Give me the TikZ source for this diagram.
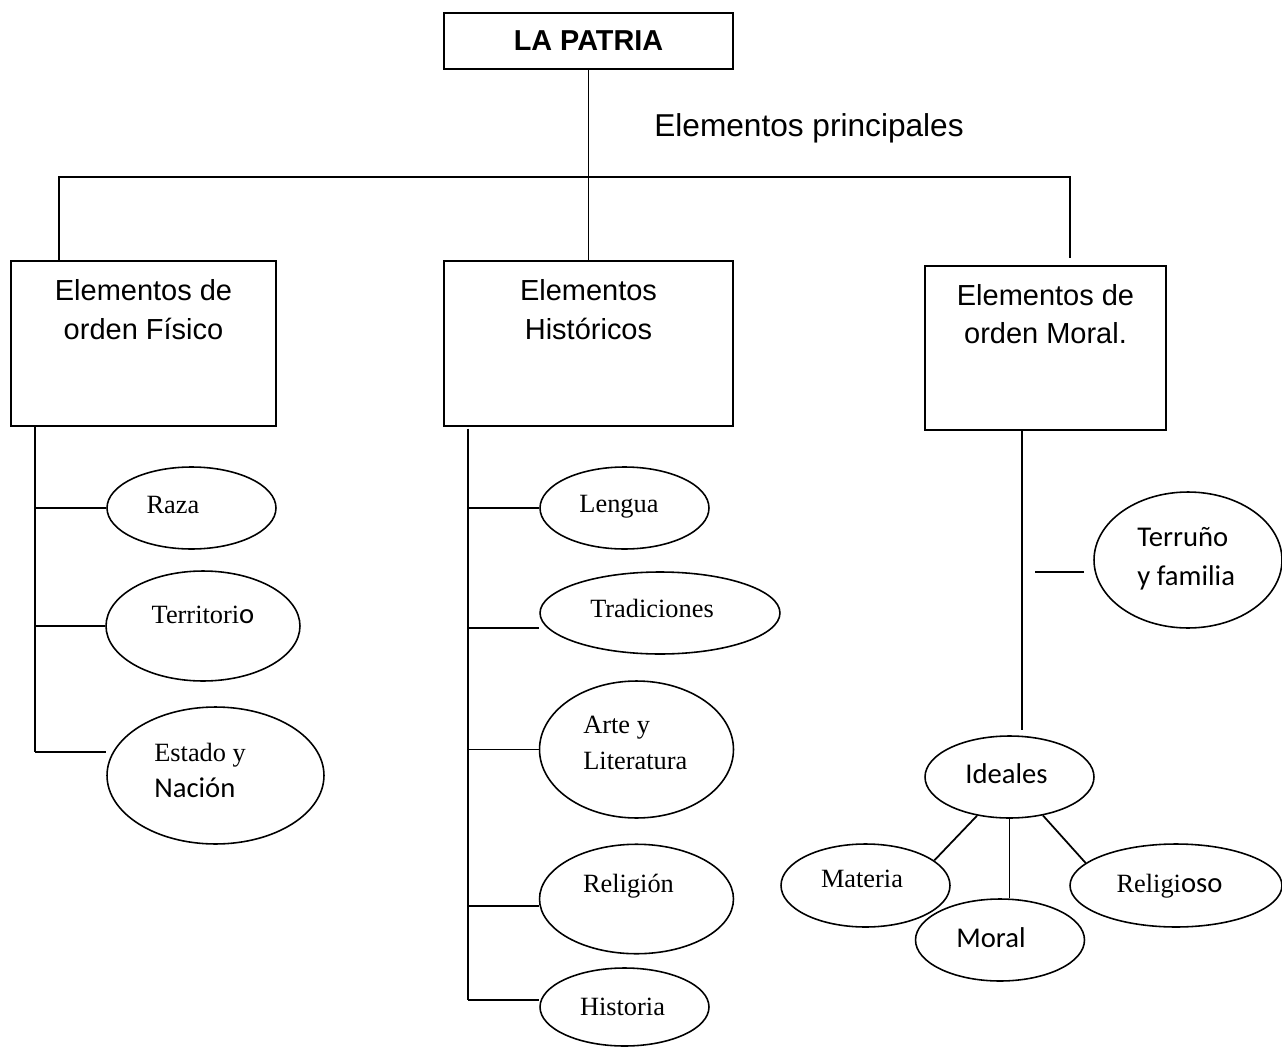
\documentclass[tikz,border=0pt]{standalone}
\usepackage{fontspec}
\setmainfont{Liberation Serif}
\newfontfamily\arialf{Liberation Sans}
\newfontfamily\calib{Carlito}
\usetikzlibrary{shapes.geometric}
\newcommand\sanst[1]{{\calib\fontsize{16.3}{20}\selectfont #1}}
\tikzset{
  caja/.style={draw,line width=1.1pt,inner sep=0pt},
  elip/.style={draw,ellipse,line width=0.9pt,inner sep=0pt},
  rama/.style={line width=1pt},
  txt/.style={font=\fontsize{15}{20.5}\selectfont,inner sep=0pt},
  txtc/.style={font=\calib\fontsize{16.3}{22}\selectfont,inner sep=0pt},
  txta/.style={font=\arialf\fontsize{16.5}{22}\selectfont,align=center,inner sep=0pt}
}
\begin{document}
\begin{tikzpicture}[x=0.02cm,y=-0.02cm]
   \useasboundingbox (0,0) rectangle (1282,1048);
   \node[caja,minimum width=5.78cm,minimum height=1.11cm,font=\arialf\bfseries\fontsize{16.4}{20}\selectfont] (patria) at (588.5,41) {LA PATRIA};
   \node[font=\arialf\fontsize{18}{22}\selectfont] (princ) at (809,128) {Elementos principales};
   \node[caja,minimum width=5.3cm,minimum height=3.29cm] (bfis) at (143.5,343.5) {};
   \node[caja,minimum width=5.78cm,minimum height=3.29cm] (bhis) at (588.5,343.5) {};
   \node[caja,minimum width=4.82cm,minimum height=3.28cm] (bmor) at (1045.5,348) {};
   \node[txta] (bfis-t) at (143.5,309.5) {Elementos de\\orden Físico};
   \node[txta] (bhis-t) at (588.5,309.5) {Elementos\\Históricos};
   \node[txta] (bmor-t) at (1045.5,314) {Elementos de\\orden Moral.};
   \coordinate (barI) at (59,177);
   \coordinate (barD) at (1070,177);
   \draw[rama] (patria) -- (bhis);
   \draw[rama] (barI |- bfis.north) -- (barI) -- (barD) -- ([yshift=0.14cm]bmor.north -| barD);
   % orden fisico
   \node[elip,minimum width=3.38cm,minimum height=1.64cm] (raza) at (191.5,508) {};
   \node[elip,minimum width=3.88cm,minimum height=2.2cm] (terri) at (203,626) {};
   \node[elip,minimum width=4.34cm,minimum height=2.74cm] (estado) at (215.5,775.5) {};
   \node[txt] (raza-t) at (173,505) {Raza};
   \node[txt] (terri-t) at (203,615) {Territori\sanst{o}};
   \node[txt,align=left,anchor=west] (estado-t) at (154,770) {Estado y\\\sanst{Nación}};
   \coordinate (tfis) at (35,752);
   \draw[rama] (bfis.south -| tfis) -- (tfis);
   \draw[rama] (tfis |- raza.west) -- (raza.west);
   \draw[rama] (tfis |- terri.west) -- (terri.west);
   \draw[rama] (tfis) -- (tfis -| estado.west);
   % historicos
   \node[elip,minimum width=3.38cm,minimum height=1.64cm] (lengua) at (624.5,508) {};
   \node[elip,minimum width=4.8cm,minimum height=1.64cm] (trad) at (660,613) {};
   \node[elip,minimum width=3.88cm,minimum height=2.74cm] (arte) at (636.5,749.5) {};
   \node[elip,minimum width=3.88cm,minimum height=2.19cm] (relig) at (636.5,899) {};
   \node[elip,minimum width=3.38cm,minimum height=1.56cm] (histo) at (624.5,1007) {};
   \node[txt] (lengua-t) at (619,507) {Lengua};
   \node[txt] (trad-t) at (652,608) {Tradiciones};
   \node[txt,align=left,anchor=west] (arte-t) at (583,742.5) {Arte y\\Literatura};
   \node[txt] (relig-t) at (628.5,886) {Religión};
   \node[txt] (histo-t) at (622.5,1007) {Historia};
   \coordinate (this) at (468,1000);
   \draw[rama] ([yshift=-0.04cm]bhis.south -| this) -- (this);
   \draw[rama] (this |- lengua.west) -- (lengua.west);
   \draw[rama] ([yshift=-0.3cm]trad.west) -- ([yshift=-0.3cm]trad.west -| this);
   \draw[rama] (this |- arte.west) -- (arte.west);
   \draw[rama] ([yshift=-0.14cm]relig.west) -- ([yshift=-0.14cm]relig.west -| this);
   \draw[rama] (this) -- (this -| histo.west);
   % orden moral
   \node[elip,minimum width=3.76cm,minimum height=2.72cm] (terruno) at (1188,560) {};
   \node[elip,minimum width=3.38cm,minimum height=1.64cm] (ideal) at (1009.5,777) {};
   \node[elip,minimum width=3.38cm,minimum height=1.66cm] (mater) at (865.5,885.5) {};
   \node[elip,minimum width=3.38cm,minimum height=1.64cm] (moral) at (1000,940) {};
   \node[elip,minimum width=4.24cm,minimum height=1.66cm] (religio) at (1176,885.5) {};
   \node[txtc,align=left,anchor=west] (terruno-t) at (1137,558.5) {Terruño\\y familia};
   \node[txtc] (ideal-t) at (1006.5,774) {Ideales};
   \node[txt] (mater-t) at (862,879) {Materia};
   \node[txtc] (moral-t) at (991,938) {Moral};
   \node[txt] (religio-t) at (1169.5,886) {Religi\sanst{oso}};
   \coordinate (tmor) at (1022,730);
   \draw[rama] (bmor.south -| tmor) -- (tmor);
   \draw[rama] ([shift={(-9,12)}]terruno.west) -- ++(-49,0);
   \draw[rama] (ideal.230) -- (mater.20);
   \draw[rama] (ideal.south) -- (ideal.south |- moral.north);
   \draw[rama] (ideal.311) -- (religio.166);
\end{tikzpicture}
\end{document}
